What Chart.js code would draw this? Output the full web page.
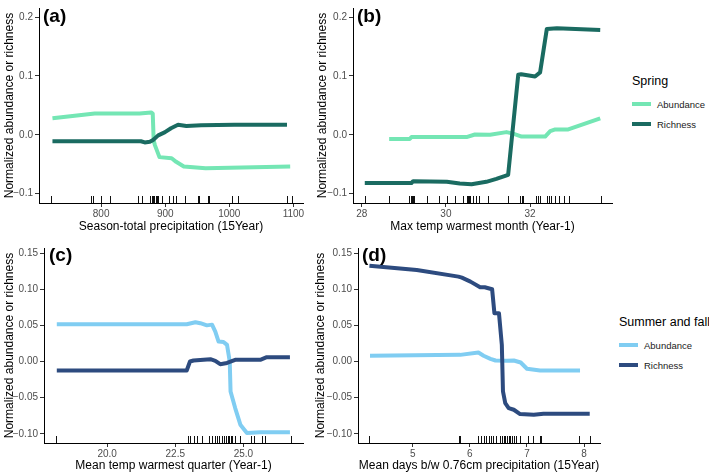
<!DOCTYPE html>
<html>
<head>
<meta charset="utf-8">
<script src="https://cdn.jsdelivr.net/npm/chart.js@4.4.1/dist/chart.umd.min.js"></script>
<style>
body { margin: 0; background: #fff; width: 709px; height: 474px; position: relative; overflow: hidden; font-family: "Liberation Sans", Arial, sans-serif; }
canvas { position: absolute; }
.tag { position: absolute; font-weight: bold; font-size: 19px; line-height: 19px; color: #000; }
.leg { position: absolute; color: #000; white-space: nowrap; }
.leg .ttl { font-size: 12.5px; line-height: 14px; margin-bottom: 6px; }
.leg .row { height: 20px; display: flex; align-items: center; font-size: 9.5px; color: #1a1a1a; }
.leg .sw { width: 19px; height: 4px; margin-right: 6px; }
</style>
</head>
<body>
<canvas id="pa" width="315" height="235" style="left:0;top:0"></canvas>
<canvas id="pb" width="312" height="235" style="left:313px;top:0"></canvas>
<canvas id="pc" width="315" height="239" style="left:0;top:235px"></canvas>
<canvas id="pd" width="300" height="239" style="left:311px;top:235px"></canvas>
<div class="tag" style="left:43px;top:6px">(a)</div>
<div class="tag" style="left:357px;top:6px">(b)</div>
<div class="tag" style="left:49px;top:245px">(c)</div>
<div class="tag" style="left:362px;top:245px">(d)</div>
<script>
var seriesNames = ['Abundance', 'Richness'];
var springColors = ['#74e6b4', '#1a6b61'];
var summerColors = ['#80cdf2', '#2d4b7f'];

// (a) Season-total precipitation (15Year)
var aAbundX = [724, 790, 860, 878, 880.5, 882, 884, 891, 910, 917, 929, 963, 1095];
var aAbundY = [0.028, 0.036, 0.036, 0.038, 0.036, -0.010, -0.018, -0.038, -0.040, -0.046, -0.054, -0.057, -0.054];
var aRichX = [724, 862, 868, 876, 881, 889, 899, 909, 920, 933, 956, 1008, 1090];
var aRichY = [-0.011, -0.011, -0.013, -0.012, -0.009, -0.001, 0.004, 0.011, 0.017, 0.015, 0.016, 0.017, 0.017];
var aRug = [721.5, 784, 786.5, 799.5, 814, 857, 864.5, 876, 879, 881, 883, 885, 887, 889, 895.6, 906, 912.8, 917, 931, 951.8, 953.4, 967.4, 969, 1004.8, 1014, 1090.6, 1097.5];
var aXTicks = [800, 900, 1000, 1100];
var aXLabels = ['800', '900', '1000', '1100'];

// (b) Max temp warmest month (Year-1)
var bAbundX = [28.65, 29.14, 29.18, 30.49, 30.69, 31.05, 31.44, 31.6, 31.8, 32.36, 32.48, 32.6, 32.91, 33.67];
var bAbundY = [-0.007, -0.007, -0.004, -0.004, 0.0005, 0.0, 0.0045, 0.002, -0.003, -0.003, 0.006, 0.009, 0.009, 0.028];
var bRichX = [28.07, 29.18, 29.22, 30.02, 30.33, 30.61, 30.96, 31.2, 31.48, 31.72, 31.79, 32.12, 32.24, 32.4, 32.64, 33.67];
var bRichY = [-0.082, -0.082, -0.079, -0.080, -0.083, -0.084, -0.080, -0.075, -0.068, 0.102, 0.103, 0.099, 0.106, 0.180, 0.181, 0.178];
var bRug = [28.07, 28.64, 29.13, 29.16, 29.19, 29.22, 29.25, 29.54, 29.84, 30.02, 30.21, 30.40, 30.51, 30.53, 30.55, 30.57, 30.65, 30.71, 30.79, 31.01, 31.48, 31.76, 31.80, 31.84, 32.14, 32.18, 32.24, 32.40, 32.44, 32.50, 32.60, 32.70, 32.82, 32.93, 33.68];
var bXTicks = [28, 30, 32];
var bXLabels = ['28', '30', '32'];

// (c) Mean temp warmest quarter (Year-1)
var cAbundX = [18.15, 22.92, 23.24, 23.42, 23.66, 23.85, 23.97, 24.09, 24.27, 24.40, 24.50, 24.53, 24.70, 24.89, 25.13, 25.61, 26.71];
var cAbundY = [0.0516, 0.0516, 0.0544, 0.053, 0.050, 0.051, 0.0414, 0.0276, 0.0271, 0.023, 0.0, -0.0414, -0.0644, -0.0874, -0.099, -0.098, -0.098];
var cRichX = [18.15, 22.92, 23.04, 23.17, 23.79, 23.97, 24.15, 24.40, 24.70, 25.13, 25.62, 25.86, 26.71];
var cRichY = [-0.0124, -0.0124, 0.0, 0.0014, 0.0032, 0.001, -0.0037, -0.002, 0.0023, 0.0023, 0.0023, 0.006, 0.006];
var cRug = [18.13, 22.98, 23.04, 23.17, 23.29, 23.47, 23.75, 23.86, 23.96, 24.05, 24.12, 24.21, 24.29, 24.35, 24.43, 24.49, 24.54, 24.60, 24.70, 24.88, 25.28, 25.39, 25.67, 25.80, 26.75];
var cXTicks = [20, 22.5, 25];
var cXLabels = ['20.0', '22.5', '25.0'];

// (d) Mean days b/w 0.76cm precipitation (15Year)
var dAbundX = [4.25, 5.83, 6.15, 6.24, 6.36, 6.45, 6.65, 6.77, 6.89, 7.0, 7.23, 7.93];
var dAbundY = [0.0079, 0.0092, 0.0124, 0.008, 0.0037, 0.0014, 0.0009, 0.0014, -0.0014, -0.010, -0.0124, -0.0124];
var dRichX = [4.24, 5.07, 5.80, 5.86, 6.01, 6.18, 6.26, 6.39, 6.43, 6.51, 6.56, 6.58, 6.62, 6.68, 6.77, 6.88, 7.12, 7.29, 8.10];
var dRichY = [0.1326, 0.1266, 0.1174, 0.1160, 0.1105, 0.1027, 0.1027, 0.100, 0.0668, 0.0668, 0.023, -0.0414, -0.0575, -0.0644, -0.0667, -0.0727, -0.0736, -0.0722, -0.0722];
var dRug = [4.24, 5.81, 5.83, 6.15, 6.19, 6.24, 6.29, 6.33, 6.37, 6.41, 6.46, 6.52, 6.56, 6.59, 6.62, 6.65, 6.68, 6.71, 6.74, 6.77, 6.81, 6.87, 7.01, 7.11, 7.23, 7.25, 7.92, 8.10];
var dXTicks = [5, 6, 7, 8];
var dXLabels = ['5', '6', '7', '8'];

var topYTicks = [-0.1, 0, 0.1, 0.2];
var topYLabels = ['\u22120.1', '0.0', '0.1', '0.2'];
var botYTicks = [-0.10, -0.05, 0, 0.05, 0.10, 0.15];
var botYLabels = ['\u22120.10', '\u22120.05', '0.00', '0.05', '0.10', '0.15'];

var yTitle = 'Normalized abundance or richness';

var rugPlugin = {
    id: 'rug',
    afterDatasetsDraw: function (chart, args, opts) {
        var xs = chart.scales.x, area = chart.chartArea, c = chart.ctx;
        c.save();
        c.strokeStyle = '#111';
        c.lineWidth = 1;
        opts.values.forEach(function (v) {
            var px = Math.round(xs.getPixelForValue(v)) + 0.5;
            c.beginPath();
            c.moveTo(px, area.bottom);
            c.lineTo(px, area.bottom - 7);
            c.stroke();
        });
        c.restore();
    }
};

function pts(xs, ys) {
    return xs.map(function (x, i) { return { x: x, y: ys[i] }; });
}

function makePanel(id, p) {
    new Chart(document.getElementById(id), {
        type: 'scatter',
        data: {
            datasets: [{
                label: seriesNames[0],
                data: pts(p.abX, p.abY),
                borderColor: p.colors[0],
                order: 1
            }, {
                label: seriesNames[1],
                data: pts(p.riX, p.riY),
                borderColor: p.colors[1],
                order: 0
            }]
        },
        options: {
            responsive: false,
            animation: false,
            showLine: true,
            layout: { padding: { top: p.padTop, right: p.padRight, left: 0, bottom: 0 } },
            elements: {
                point: { radius: 0, hoverRadius: 0 },
                line: { borderWidth: 4, tension: 0, borderCapStyle: 'butt', borderJoinStyle: 'round' }
            },
            plugins: {
                legend: { display: false },
                tooltip: { enabled: false },
                rug: { values: p.rug }
            },
            scales: {
                x: {
                    type: 'linear',
                    min: p.xMin,
                    max: p.xMax,
                    afterBuildTicks: function (s) { s.ticks = p.xTicks.map(function (v) { return { value: v }; }); },
                    afterFit: function (s) { s.height = p.xBoxH; },
                    grid: { display: true, drawOnChartArea: false, drawTicks: true, tickLength: 4, color: '#333' },
                    border: { display: true, color: '#000', width: 1 },
                    ticks: {
                        color: '#4d4d4d', font: { size: 10 }, padding: 1, autoSkip: false, maxRotation: 0,
                        callback: function (v, i) { return p.xLabels[i]; }
                    },
                    title: { display: true, text: p.xTitle, color: '#000', font: { size: 12 }, padding: { top: 0, bottom: 1 } }
                },
                y: {
                    type: 'linear',
                    min: p.yMin,
                    max: p.yMax,
                    afterBuildTicks: function (s) { s.ticks = p.yTicks.map(function (v) { return { value: v }; }); },
                    afterFit: function (s) { s.width = p.yBoxW; },
                    grid: { display: true, drawOnChartArea: false, drawTicks: true, tickLength: 4, color: '#333' },
                    border: { display: true, color: '#000', width: 1 },
                    ticks: {
                        color: '#4d4d4d', font: { size: 10 }, padding: 2, autoSkip: false,
                        callback: function (v, i) { return p.yLabels[i]; }
                    },
                    title: { display: true, text: yTitle, color: '#000', font: { size: 12 }, padding: { top: 2, bottom: 0 } }
                }
            }
        },
        plugins: [rugPlugin]
    });
}

Chart.defaults.font.family = '"Liberation Sans", Arial, sans-serif';

makePanel('pa', {
    abX: aAbundX, abY: aAbundY, riX: aRichX, riY: aRichY, rug: aRug, colors: springColors,
    xMin: 703, xMax: 1115, xTicks: aXTicks, xLabels: aXLabels, xTitle: 'Season-total precipitation (15Year)',
    yMin: -0.116, yMax: 0.2155, yTicks: topYTicks, yLabels: topYLabels,
    yBoxW: 39, xBoxH: 32, padTop: 3, padRight: 12
});
makePanel('pb', {
    abX: bAbundX, abY: bAbundY, riX: bRichX, riY: bRichY, rug: bRug, colors: springColors,
    xMin: 27.79, xMax: 33.95, xTicks: bXTicks, xLabels: bXLabels, xTitle: 'Max temp warmest month (Year-1)',
    yMin: -0.116, yMax: 0.2155, yTicks: topYTicks, yLabels: topYLabels,
    yBoxW: 40, xBoxH: 32, padTop: 3, padRight: 13
});
makePanel('pc', {
    abX: cAbundX, abY: cAbundY, riX: cRichX, riY: cRichY, rug: cRug, colors: summerColors,
    xMin: 17.68, xMax: 27.19, xTicks: cXTicks, xLabels: cXLabels, xTitle: 'Mean temp warmest quarter (Year-1)',
    yMin: -0.1127, yMax: 0.157, yTicks: botYTicks, yLabels: botYLabels,
    yBoxW: 44, xBoxH: 31, padTop: 13, padRight: 12
});
makePanel('pd', {
    abX: dAbundX, abY: dAbundY, riX: dRichX, riY: dRichY, rug: dRug, colors: summerColors,
    xMin: 4.04, xMax: 8.28, xTicks: dXTicks, xLabels: dXLabels, xTitle: 'Mean days b/w 0.76cm precipitation (15Year)',
    yMin: -0.1127, yMax: 0.157, yTicks: botYTicks, yLabels: botYLabels,
    yBoxW: 47, xBoxH: 31, padTop: 13, padRight: 11
});

function addLegend(title, colors, left, top) {
    var box = document.createElement('div');
    box.className = 'leg';
    box.style.left = left + 'px';
    box.style.top = top + 'px';
    var t = document.createElement('div');
    t.className = 'ttl';
    t.textContent = title;
    box.appendChild(t);
    seriesNames.forEach(function (name, i) {
        var row = document.createElement('div');
        row.className = 'row';
        var sw = document.createElement('span');
        sw.className = 'sw';
        sw.style.background = colors[i];
        row.appendChild(sw);
        row.appendChild(document.createTextNode(name));
        box.appendChild(row);
    });
    document.body.appendChild(box);
}
addLegend('Spring', springColors, 632, 74);
addLegend('Summer and fall', summerColors, 619, 315);
</script>
</body>
</html>
